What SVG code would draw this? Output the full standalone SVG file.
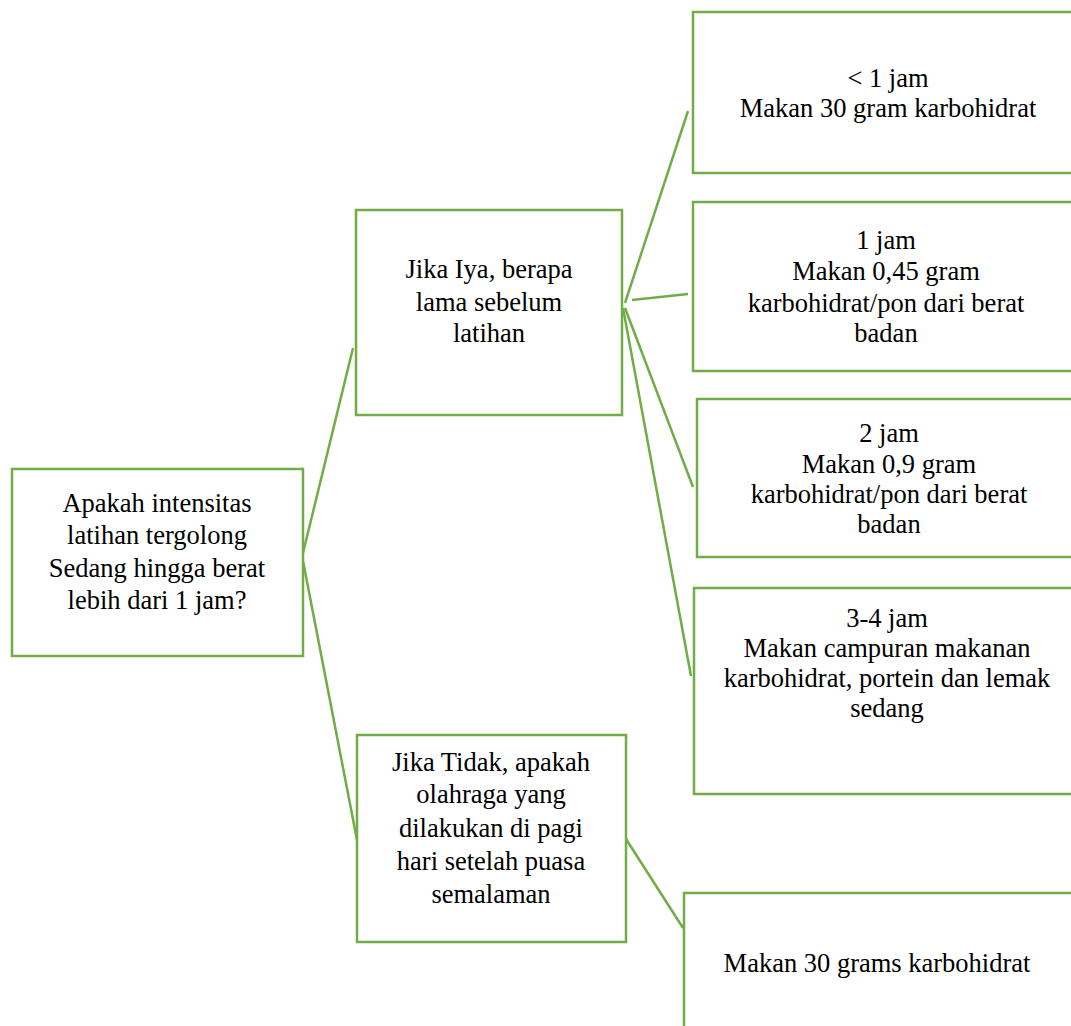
<svg xmlns="http://www.w3.org/2000/svg" width="1071" height="1026" viewBox="0 0 1071 1026">
<style>
.box{fill:#fff;stroke:#70AD47;stroke-width:2.5}
.ln{stroke:#70AD47;stroke-width:2.5;fill:none}
.t{font-family:'Liberation Serif','Times New Roman','DejaVu Serif',serif;font-size:26.5px;fill:#000;text-anchor:middle}
</style>
<rect width="1071" height="1026" fill="#fff"/>
<g id="connectors">
<line class="ln" x1="303" y1="553" x2="353" y2="348"/>
<line class="ln" x1="303" y1="561" x2="357" y2="840"/>
<line class="ln" x1="625" y1="303" x2="688" y2="111"/>
<line class="ln" x1="632" y1="300" x2="688" y2="294"/>
<line class="ln" x1="625" y1="308" x2="693" y2="487"/>
<line class="ln" x1="623" y1="308" x2="691" y2="676"/>
<line class="ln" x1="626" y1="839" x2="683" y2="928"/>
</g>
<g id="n_main">
<rect class="box" x="12" y="469" width="291" height="187"/>
<text class="t" x="157" y="512">Apakah intensitas</text>
<text class="t" x="157" y="544">latihan tergolong</text>
<text class="t" x="157" y="577">Sedang hingga berat</text>
<text class="t" x="157" y="609">lebih dari 1 jam?</text>
</g>
<g id="n_iya">
<rect class="box" x="356" y="210" width="266" height="205"/>
<text class="t" x="489" y="278">Jika Iya, berapa</text>
<text class="t" x="489" y="311">lama sebelum</text>
<text class="t" x="489" y="342">latihan</text>
</g>
<g id="n_tidak">
<rect class="box" x="357" y="735" width="269" height="207"/>
<text class="t" x="491" y="771">Jika Tidak, apakah</text>
<text class="t" x="491" y="803">olahraga yang</text>
<text class="t" x="491" y="837">dilakukan di pagi</text>
<text class="t" x="491" y="870">hari setelah puasa</text>
<text class="t" x="491" y="903">semalaman</text>
</g>
<g id="n_lt1">
<rect class="box" x="693" y="12" width="400" height="161"/>
<text class="t" x="888" y="87">&lt; 1 jam</text>
<text class="t" x="888" y="117">Makan 30 gram karbohidrat</text>
</g>
<g id="n_1jam">
<rect class="box" x="693" y="202" width="400" height="169"/>
<text class="t" x="886" y="249">1 jam</text>
<text class="t" x="886" y="280">Makan 0,45 gram</text>
<text class="t" x="886" y="312">karbohidrat/pon dari berat</text>
<text class="t" x="886" y="342">badan</text>
</g>
<g id="n_2jam">
<rect class="box" x="697" y="399" width="400" height="158"/>
<text class="t" x="889" y="442">2 jam</text>
<text class="t" x="889" y="473">Makan 0,9 gram</text>
<text class="t" x="889" y="503">karbohidrat/pon dari berat</text>
<text class="t" x="889" y="533">badan</text>
</g>
<g id="n_34jam">
<rect class="box" x="694" y="588" width="400" height="206"/>
<text class="t" x="887" y="627">3-4 jam</text>
<text class="t" x="887" y="657">Makan campuran makanan</text>
<text class="t" x="887" y="687">karbohidrat, portein dan lemak</text>
<text class="t" x="887" y="717">sedang</text>
</g>
<g id="n_30g">
<rect class="box" x="684" y="893" width="400" height="160"/>
<text class="t" x="877" y="972">Makan 30 grams karbohidrat</text>
</g>
</svg>
